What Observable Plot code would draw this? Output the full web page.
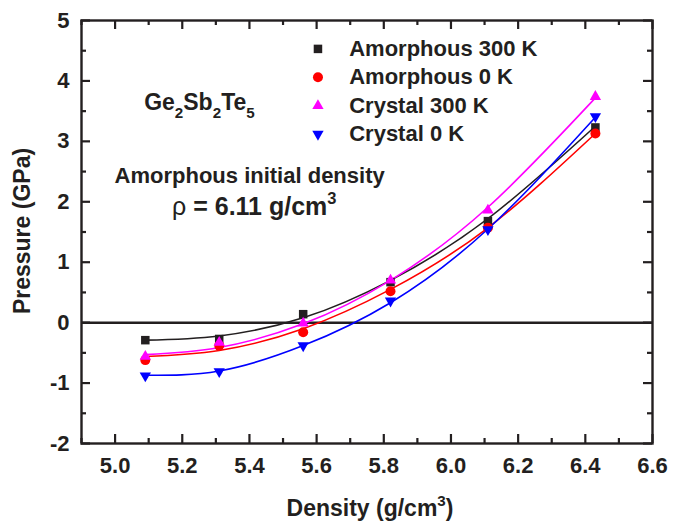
<!DOCTYPE html>
<html><head><meta charset="utf-8">
<script src="https://cdn.jsdelivr.net/npm/d3@7"></script>
<script src="https://cdn.jsdelivr.net/npm/@observablehq/plot@0.6"></script>
<style>
body{margin:0;background:#fff;overflow:hidden;}
#chart svg{font-family:"Liberation Sans",Arial,sans-serif;display:block;}
</style>
</head><body><div id="chart"></div>
<script>
// ---- data ----
const densities = [5.09, 5.31, 5.56, 5.82, 6.11, 6.43];
const amorphous300 = [-0.29, -0.27, 0.14, 0.67, 1.68, 3.23];
const amorphous0   = [-0.62, -0.38, -0.16, 0.52, 1.57, 3.13];
const crystal300   = [-0.56, -0.33, -0.01, 0.70, 1.86, 3.74];
const crystal0     = [-0.88, -0.81, -0.38, 0.36, 1.54, 3.41];
// fitted curves, read at the same densities
const fitAmorphous300 = [-0.29, -0.22, 0.08, 0.70, 1.72, 3.25];
const fitAmorphous0   = [-0.56, -0.46, -0.10, 0.55, 1.57, 3.13];
const fitCrystal300   = [-0.53, -0.41, -0.02, 0.70, 1.91, 3.72];
const fitCrystal0     = [-0.87, -0.80, -0.38, 0.33, 1.55, 3.40];

const seriesNames = ["Amorphous 300 K", "Amorphous 0 K", "Crystal 300 K", "Crystal 0 K"];
const xTicks = [5.0, 5.2, 5.4, 5.6, 5.8, 6.0, 6.2, 6.4, 6.6];
const xMinorTicks = [4.9, 5.1, 5.3, 5.5, 5.7, 5.9, 6.1, 6.3, 6.5];
const yTicks = [-2, -1, 0, 1, 2, 3, 4, 5];
const yMinorTicks = [-1.5, -0.5, 0.5, 1.5, 2.5, 3.5, 4.5];

// ---- styling ----
const triangleDown = {
  draw(context, size) {
    const s3 = Math.sqrt(3);
    const y = Math.sqrt(size / (s3 * 3));
    context.moveTo(0, y * 2);
    context.lineTo(-s3 * y, -y);
    context.lineTo(s3 * y, -y);
    context.closePath();
  }
};
const seriesValues = [amorphous300, amorphous0, crystal300, crystal0];
const seriesFits = [fitAmorphous300, fitAmorphous0, fitCrystal300, fitCrystal0];
const seriesColors = ["#231f20", "#ff0000", "#ff00ff", "#0000ff"];
const seriesSymbols = ["square", "circle", "triangle", triangleDown];
const seriesR = [4.8, 5, 4.2, 4.2];

const series = seriesNames.map((name, i) => ({
  name, color: seriesColors[i], symbol: seriesSymbols[i], r: seriesR[i],
  rows: densities.map((x, j) => ({x, y: seriesValues[i][j], fit: seriesFits[i][j]}))
}));

const ink = "#231f20";
const W = 685, H = 524, mL = 81, mR = 33, mT = 20, mB = 81;
const plotW = W - mL - mR, plotH = H - mT - mB;
const major = 9, minor = 5;
const legendX = 5.604, legendY0 = 4.53, legendStep = 0.47, legendTextX = 5.697;

const marks = [];
marks.push(Plot.ruleY([0], {stroke: ink, strokeWidth: 2.5}));
for (const s of series) {
  marks.push(Plot.line(s.rows, {x: "x", y: "fit", stroke: s.color, strokeWidth: 1.6, curve: "natural"}));
}
for (const s of series) {
  marks.push(Plot.dot(s.rows, {x: "x", y: "y", symbol: s.symbol, fill: s.color, r: s.r, stroke: "none"}));
}
// legend
series.forEach((s, i) => {
  marks.push(Plot.dot([s], {x: () => legendX, y: () => legendY0 - i * legendStep, symbol: s.symbol, fill: s.color, r: s.r, stroke: "none"}));
  marks.push(Plot.text([s], {x: () => legendTextX, y: () => legendY0 - i * legendStep, text: d => d.name, textAnchor: "start", lineAnchor: "middle", fontSize: 22, fontWeight: "bold", fill: ink}));
});
// inward ticks on all four sides
const tickStyle = {stroke: ink, strokeWidth: 2.2};
marks.push(
  Plot.ruleX(xTicks, {...tickStyle, insetTop: plotH - major}),
  Plot.ruleX(xMinorTicks, {...tickStyle, insetTop: plotH - minor}),
  Plot.ruleX(xTicks, {...tickStyle, insetBottom: plotH - major}),
  Plot.ruleX(xMinorTicks, {...tickStyle, insetBottom: plotH - minor}),
  Plot.ruleY(yTicks, {...tickStyle, insetRight: plotW - major}),
  Plot.ruleY(yMinorTicks, {...tickStyle, insetRight: plotW - minor}),
  Plot.ruleY(yTicks, {...tickStyle, insetLeft: plotW - major}),
  Plot.ruleY(yMinorTicks, {...tickStyle, insetLeft: plotW - minor})
);
// tick labels
const fmt = d3.format(".1f");
marks.push(
  Plot.axisX(xTicks, {anchor: "bottom", tickSize: 0, tickPadding: 14, tickFormat: fmt, label: null, fontSize: 22, fontWeight: "bold", fill: ink}),
  Plot.axisY(yTicks, {anchor: "left", tickSize: 0, tickPadding: 12, tickFormat: d => String(d), label: null, fontSize: 22, fontWeight: "bold", fill: ink}),
  Plot.frame({stroke: ink, strokeWidth: 2.4})
);

const plot = Plot.plot({
  width: W, height: H,
  marginLeft: mL, marginRight: mR, marginTop: mT, marginBottom: mB,
  style: {fontFamily: "'Liberation Sans', Arial, sans-serif", fontSize: "22px", fontWeight: "bold", color: ink, background: "#fff", overflow: "visible"},
  x: {domain: [4.9, 6.6]},
  y: {domain: [-2, 5]},
  marks
});
document.getElementById("chart").appendChild(plot);

// ---- rich text (subscripts / superscripts) ----
const svg = d3.select(plot);
const sx = plot.scale("x"), sy = plot.scale("y");
function rich(px, py, parts, opts = {}) {
  const size = opts.size || 22;
  const t = svg.append("text")
    .attr("x", px).attr("y", py)
    .attr("fill", ink)
    .attr("font-family", "'Liberation Sans', Arial, sans-serif")
    .attr("font-weight", opts.weight || "bold")
    .attr("font-size", size)
    .attr("text-anchor", opts.anchor || "start");
  if (opts.rotate) t.attr("transform", `rotate(${opts.rotate} ${px} ${py})`);
  let shift = 0;
  for (const [str, kind, extra] of parts) {
    const ts = t.append("tspan").text(str);
    const target = kind === "sub" ? size * 0.33 : kind === "sup" ? -size * 0.42 : 0;
    if (target !== shift) ts.attr("dy", target - shift);
    shift = target;
    if (kind === "sub" || kind === "sup") ts.attr("font-size", size * 0.66);
    if (extra) for (const k in extra) ts.attr(k, extra[k]);
  }
  return t;
}
// compound label
rich(sx.apply(5.088), sy.apply(3.51), [["Ge"], ["2", "sub"], ["Sb"], ["2", "sub"], ["Te"], ["5", "sub"]], {size: 23});
// initial density note
rich(sx.apply(5.0), sy.apply(2.31), [["Amorphous initial density"]], {size: 22});
rich(sx.apply(5.171), sy.apply(1.78), [["ρ", null, {"font-weight": "normal"}], [" = 6.11 g/cm"], ["3", "sup"]], {size: 25});
// axis titles
rich(370, 516, [["Density (g/cm"], ["3", "sup"], [")"]], {anchor: "middle", size: 23});
rich(30, 231, [["Pressure (GPa)"]], {anchor: "middle", size: 23, rotate: -90});
</script></body></html>
